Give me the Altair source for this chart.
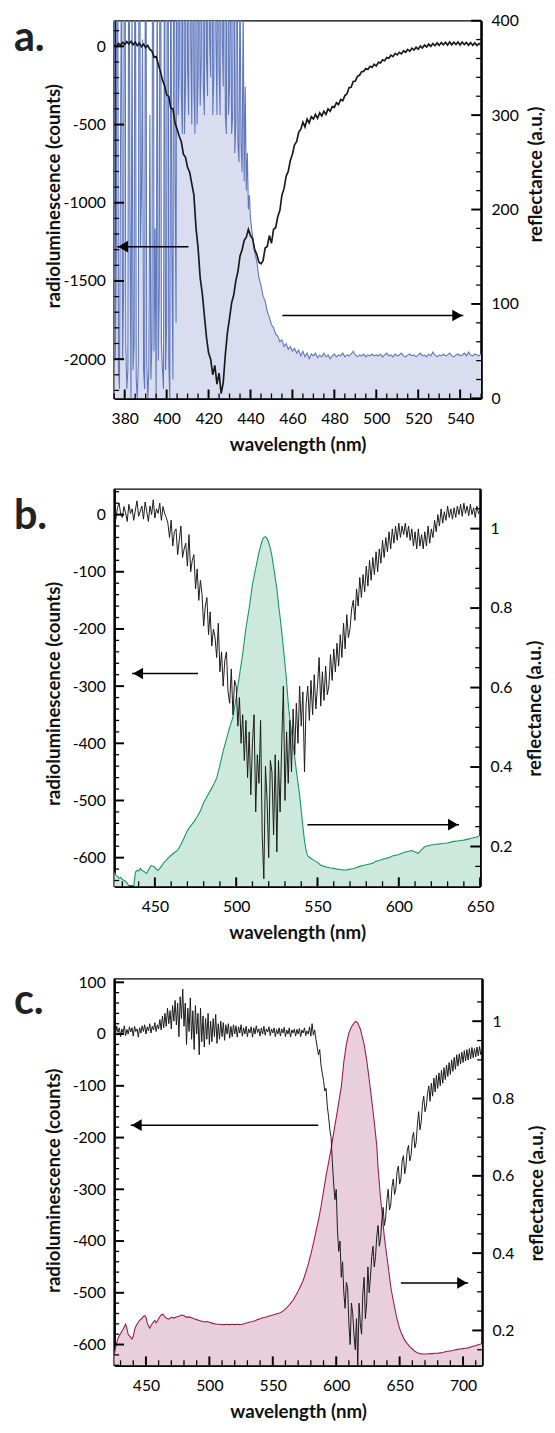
import altair as alt
import pandas as pd

FONT = "Lato"

# ---------------- panel a ----------------
a_rl_wl = list(range(375, 551))
a_rl = [
    10, -2, 18, 8, 25, 12, 30, 15, 32, 10,
    26, 5, 20, -2, 14, -8, 6, -20, -30, -70,
    -65, -115, -160, -215, -250, -310, -320, -395, -400, -490,
    -530, -575, -610, -690, -710, -775, -805, -880, -950, -1160,
    -1290, -1480, -1580, -1720, -1860, -1960, -2000, -2100, -2040, -2160,
    -2090, -2220, -2150, -1970, -1830, -1740, -1640, -1590, -1500, -1440,
    -1340, -1300, -1240, -1220, -1170, -1210, -1230, -1300, -1330, -1380,
    -1390, -1370, -1290, -1280, -1210, -1260, -1170, -1160, -1090, -1050,
    -950, -910, -830, -800, -730, -690, -630, -610, -550, -530,
    -485, -515, -465, -490, -450, -465, -435, -460, -425, -445,
    -415, -435, -400, -415, -385, -390, -360, -372, -340, -348,
    -315, -305, -265, -262, -225, -222, -192, -185, -162, -160,
    -142, -148, -128, -135, -115, -126, -102, -106, -86, -92,
    -72, -76, -56, -66, -45, -55, -38, -48, -28, -38,
    -20, -32, -12, -24, -6, -18, 2, -10, 8, -4,
    14, 0, 18, 4, 22, 6, 24, 10, 26, 8,
    28, 10, 26, 12, 28, 8, 27, 12, 25, 8,
    24, 6, 22, 5, 18, 10,
]
a_ref_wl = [375 + 0.5 * i for i in range(130)] + list(range(440, 551))
a_ref = [
    600, 40, 150, 800, 30, 10, 260, 500, 40, 120,
    900, 60, 10, 30, 650, 200, 0, 420, 30, 60,
    700, 20, 0, 40, 850, 160, 220, 380, 30, 10,
    750, 40, 0, 30, 300, 20, 60, 900, 50, 180,
    0, 480, 40, 120, 820, 60, 30, 10, 560, 30,
    80, 950, 40, 0, 520, 160, 20, 780, 240, 80,
    900, 300, 350, 750, 320, 280, 880, 280, 330, 620,
    350, 300, 900, 380, 290, 700, 330, 280, 950, 290,
    340, 560, 310, 360, 820, 330, 300, 680, 360, 320,
    900, 380, 340, 720, 300, 340, 880, 390, 300, 600,
    350, 300, 820, 380, 330, 700, 300, 280, 900, 300,
    330, 520, 280, 300, 700, 260, 290, 600, 270, 250,
    450, 270, 240, 420, 230, 330, 220, 260, 200, 215,
    190, 172, 155, 145, 128, 120, 108, 103, 92, 86,
    78, 75, 68, 66, 60, 62, 55, 58, 52, 55,
    50, 53, 48, 51, 45, 50, 44, 48, 42, 47,
    45, 48, 43, 46, 44, 48, 44, 46, 42, 45,
    47, 44, 46, 45, 48, 44, 46, 45, 47, 50,
    46, 44, 46, 45, 47, 44, 46, 45, 47, 45,
    46, 45, 47, 44, 46, 48, 45, 46, 44, 47,
    45, 46, 48, 45, 44, 46, 47, 45, 46, 44,
    46, 48, 45, 46, 44, 47, 45, 49, 46, 44,
    46, 45, 47, 45, 46, 48, 45, 44, 46, 47,
    45, 46, 48, 45, 49, 46, 45, 47, 46, 45,
    47,
]

# ---------------- panel b ----------------
b_rl_wl = list(range(425, 651))
b_rl = [
    5, -8, 12, 20, 0, -5, 14, 3, -12, 18,
    2, 10, -10, 8, 24, -3, 6, 15, -8, 22,
    5, -12, 15, 0, 26, -6, 10, 2, 20, -10,
    14, 2, -5, -15, -40, -10, -55, -30, -25, -70,
    -45, -20, -75, -60, -50, -90, -35, -100, -80, -70,
    -130, -95, -150, -115, -140, -195, -160, -145, -210, -170,
    -230, -200, -215, -250, -190, -275, -240, -300, -255, -240,
    -310, -330, -270, -350, -290, -300, -370, -320, -400, -350,
    -430, -360, -460, -380, -490, -400, -350, -520, -420, -470,
    -360, -560, -637, -440, -500, -600, -430, -450, -560, -420,
    -590, -430, -520, -400, -300, -500, -380, -470, -360, -450,
    -340, -420, -330, -400, -300, -370, -310, -450, -330, -300,
    -360, -290, -350, -280, -340, -300, -250, -335, -275, -325,
    -265, -315, -300, -245, -290, -235, -275, -225, -265, -210,
    -250, -190, -235, -175, -215, -200, -165, -150, -185, -130,
    -160, -110, -145, -105, -135, -90, -125, -80, -115, -75,
    -105, -65, -100, -60, -85, -45, -75, -40, -65, -30,
    -60, -25, -50, -20, -45, -15, -40, -20, -35, -15,
    -40, -20, -45, -25, -55, -30, -60, -25, -55, -35,
    -60, -30, -55, -20, -50, -25, -40, -10, -30, 0,
    -20, 10, -15, 5, -10, 15, -5, 10, -8, 12,
    -5, 15, 0, 18, -3, 20, 2, 15, -2, 18,
    0, 12, -5, 15, 2, 8,
]
b_ref_wl = [
    425, 426, 427, 428, 429, 430, 431, 432, 433, 434, 435, 436, 437, 438, 439,
    440, 441, 442, 443, 444, 445, 446, 447, 448, 449, 450, 451, 452, 453, 454,
    455, 456, 457, 458, 460, 462, 464, 466, 468, 470, 472, 474, 476, 478, 480,
    482, 484, 486, 488, 490, 492, 494, 496, 498, 500, 502, 504, 506, 508, 510,
    512, 514, 516, 517, 518, 519, 520, 521, 522, 523, 524, 525, 526, 527, 528,
    529, 530, 531, 532, 533, 534, 535, 536, 537, 538, 539, 540, 541, 542, 543,
    544, 546, 548, 550, 552, 554, 556, 558, 560, 562, 564, 566, 568, 570, 572,
    574, 576, 578, 580, 582, 584, 586, 588, 590, 592, 594, 596, 598, 600, 602,
    604, 606, 608, 610, 612, 614, 616, 618, 620, 622, 624, 626, 628, 630, 632,
    634, 636, 638, 640, 642, 644, 646, 648, 650,
]
b_ref = [
    0.135, 0.128, 0.125, 0.12, 0.122, 0.117, 0.115, 0.112, 0.108, 0.10, 0.095, 0.09, 0.10, 0.135, 0.14,
    0.138, 0.145, 0.14, 0.138, 0.135, 0.132, 0.14, 0.148, 0.152, 0.15, 0.148, 0.142, 0.14, 0.145, 0.15,
    0.156, 0.162, 0.165, 0.17, 0.178, 0.185, 0.19, 0.205, 0.222, 0.24, 0.252, 0.262, 0.275, 0.29, 0.31,
    0.325, 0.34, 0.355, 0.372, 0.405, 0.44, 0.47, 0.5, 0.525, 0.575, 0.63, 0.685, 0.75, 0.8, 0.86,
    0.9, 0.94, 0.97, 0.978, 0.98, 0.975, 0.965, 0.95, 0.93, 0.905, 0.876, 0.85, 0.81, 0.777, 0.74,
    0.70, 0.66, 0.615, 0.56, 0.52, 0.49, 0.455, 0.425, 0.39, 0.36, 0.33, 0.29, 0.25, 0.215, 0.19,
    0.176, 0.17, 0.165, 0.16, 0.153, 0.15, 0.148, 0.146, 0.145, 0.143, 0.142, 0.141, 0.141, 0.143, 0.144,
    0.147, 0.15, 0.152, 0.154, 0.156, 0.158, 0.163, 0.165, 0.168, 0.17, 0.172, 0.176, 0.178, 0.18, 0.183,
    0.186, 0.188, 0.19, 0.186, 0.183, 0.192, 0.2, 0.202, 0.204, 0.205, 0.206, 0.207, 0.208, 0.209, 0.211,
    0.213, 0.214, 0.215, 0.216, 0.218, 0.22, 0.222, 0.224, 0.228,
]

# ---------------- panel c ----------------
c_rl_wl = list(range(425, 716))
c_rl = [
    8, 0, 15, 3, 12, -5, 10, 2, 16, -3,
    9, 0, 14, 4, 12, -4, 15, 5, 10, -6,
    12, 2, 16, 5, 18, 0, 14, 6, 20, 2,
    15, 8, 22, 5, 18, 10, 28, 8, 35, 12,
    40, 15, 50, 20, 45, 10, 55, 25, 65, 18,
    60, -5, 72, 30, 87, 15, 60, -20, 50, 5,
    70, -10, 45, -30, 55, 0, 40, -40, 50, -15,
    35, -25, 30, -10, 40, -20, 25, -15, 30, -5,
    38, -18, 20, -10, 25, -5, 22, -12, 18, 0,
    20, -8, 15, -5, 18, 0, 16, -6, 14, 2,
    18, -4, 12, 0, 15, -5, 10, 2, 14, -6,
    12, 0, 16, 3, 10, -4, 12, 0, 15, -2,
    10, 4, 14, -3, 10, 2, 12, -5, 9, 0,
    12, -4, 10, 2, 13, -5, 8, 0, 12, -6,
    8, 2, 10, -4, 9, 0, 11, -5, 8, 2,
    12, -3, 6, 0, 14, -4, 20, -2, 8, -10,
    -25, -40, -30, -60, -75, -90, -110, -105, -140, -160,
    -185, -200, -250, -290, -320, -300, -380, -420, -400, -470,
    -440, -500, -530, -480, -490, -560, -600, -520, -540, -580,
    -610, -550, -640, -520, -560, -580, -500, -470, -550, -520,
    -450, -500, -470, -430, -410, -450, -430, -390, -370, -410,
    -395, -360, -335, -370, -355, -320, -300, -340, -330, -295,
    -280, -310, -300, -265, -255, -290, -280, -245, -235, -270,
    -255, -225, -215, -245, -235, -200, -190, -220, -210, -175,
    -150, -185, -170, -135, -120, -150, -140, -115, -100, -130,
    -95, -120, -85, -112, -80, -105, -75, -100, -70, -95,
    -65, -88, -60, -82, -55, -78, -50, -72, -45, -68,
    -40, -62, -38, -58, -35, -55, -32, -52, -30, -50,
    -28, -48, -26, -46, -28, -44, -25, -42, -24, -40,
    -30,
]
c_ref_wl = [
    425, 426, 427, 428, 429, 430, 431, 432, 433, 434, 435, 436, 437, 438, 439,
    440, 441, 442, 443, 444, 445, 446, 447, 448, 449, 450, 451, 452, 453, 454,
    455, 456, 457, 458, 459, 460, 461, 462, 463, 464, 465, 466, 467, 468, 469,
    470, 472, 474, 476, 478, 480, 482, 484, 486, 488, 490, 492, 494, 496, 498,
    500, 502, 504, 506, 508, 510, 512, 514, 516, 518, 520, 522, 524, 526, 528,
    530, 532, 534, 536, 538, 540, 542, 544, 546, 548, 550, 552, 554, 556, 558,
    560, 562, 564, 566, 568, 570, 572, 574, 576, 578, 580, 582, 584, 586, 588,
    590, 592, 594, 596, 598, 600, 602, 604, 606, 608, 610, 612, 614, 615.5, 617,
    619, 620, 622, 624, 626, 628, 630, 632, 633, 634, 635, 636, 638, 640, 642,
    643, 644, 646, 648, 650, 652, 654, 656, 658, 660, 662, 664, 666, 668, 670,
    672, 674, 676, 678, 680, 682, 684, 686, 688, 690, 692, 694, 696, 698, 700,
    702, 704, 706, 708, 710, 712, 714, 715,
]
c_ref = [
    0.135, 0.155, 0.168, 0.18, 0.186, 0.192, 0.198, 0.203, 0.21, 0.216, 0.205, 0.19, 0.186, 0.182, 0.178,
    0.185, 0.2, 0.21, 0.216, 0.222, 0.226, 0.229, 0.232, 0.236, 0.238, 0.234, 0.22, 0.212, 0.206, 0.212,
    0.218, 0.222, 0.226, 0.22, 0.224, 0.23, 0.236, 0.24, 0.242, 0.24, 0.235, 0.232, 0.23, 0.229, 0.232,
    0.234, 0.232, 0.235, 0.237, 0.24, 0.238, 0.234, 0.235, 0.233, 0.23, 0.228, 0.226, 0.224, 0.222, 0.223,
    0.221, 0.219, 0.217, 0.216, 0.216, 0.215, 0.215, 0.216, 0.215, 0.216, 0.215, 0.216, 0.215, 0.216, 0.218,
    0.22, 0.222, 0.223, 0.225, 0.228, 0.23, 0.233, 0.234, 0.236, 0.238, 0.24, 0.242, 0.244, 0.246, 0.25,
    0.256, 0.262, 0.27, 0.278, 0.29, 0.302, 0.315, 0.33, 0.35, 0.372, 0.397, 0.425, 0.455, 0.485, 0.52,
    0.56, 0.6, 0.635, 0.67, 0.712, 0.75, 0.79, 0.83, 0.895, 0.94, 0.97, 0.985, 0.995, 1.0, 0.995,
    0.98, 0.967, 0.94, 0.9, 0.85, 0.796, 0.74, 0.677, 0.62, 0.58, 0.54, 0.51, 0.44, 0.39, 0.34,
    0.313, 0.295, 0.26, 0.229, 0.205, 0.188, 0.175, 0.166, 0.158, 0.152, 0.146, 0.142, 0.14, 0.139, 0.139,
    0.139, 0.14, 0.14, 0.141, 0.141, 0.142, 0.143, 0.145, 0.146, 0.147, 0.148, 0.15, 0.151, 0.152, 0.153,
    0.154, 0.155, 0.157, 0.159, 0.161, 0.163, 0.165, 0.166,
]

# axis tick values
a_x_major = [380, 400, 420, 440, 460, 480, 500, 520, 540]
a_x_minor = [v for v in range(375, 551, 5) if v % 20 != 0]
a_l_major = [-2000, -1500, -1000, -500, 0]
a_l_minor = [v for v in range(-2200, 101, 100) if v % 500 != 0]
a_r_major = [0, 100, 200, 300, 400]
a_r_minor = [v for v in range(20, 400, 20) if v % 100 != 0]

b_x_major = [450, 500, 550, 600, 650]
b_x_minor = [v for v in range(430, 650, 10) if v % 50 != 0]
b_l_major = [-600, -500, -400, -300, -200, -100, 0]
b_l_minor = [v for v in range(-640, 41, 20) if v % 100 != 0]
b_r_major = [0.2, 0.4, 0.6, 0.8, 1]
b_r_minor = [0.15, 0.25, 0.3, 0.35, 0.45, 0.5, 0.55, 0.65, 0.7, 0.75, 0.85, 0.9, 0.95, 1.05]

c_x_major = [450, 500, 550, 600, 650, 700]
c_x_minor = [v for v in range(430, 716, 10) if v % 50 != 0]
c_l_major = [-600, -500, -400, -300, -200, -100, 0, 100]
c_l_minor = [v for v in range(-640, 101, 20) if v % 100 != 0]
c_r_major = [0.2, 0.4, 0.6, 0.8, 1]
c_r_minor = [0.15, 0.25, 0.3, 0.35, 0.45, 0.5, 0.55, 0.65, 0.7, 0.75, 0.85, 0.9, 0.95, 1.05]

# arrows: (x from, x to, y)
a_arrow_left = (410.4, 376.4, -1281)
a_arrow_right = (455.2, 541.5, 87.8)
b_arrow_left = (476.5, 436.0, -278)
b_arrow_right = (543.8, 637.0, 0.255)
c_arrow_left = (585.8, 438.0, -176)
c_arrow_right = (651.0, 704.0, 0.323)


def panel(W, H, xdom, ldom, rdom, xmaj, xmin, lmaj, lmin, rmaj, rmin,
          rl_wl, rl, ref_wl, ref, line_color, fill_color, arr_l, arr_r,
          label, label_y, ltitle_y, rtitle_y, rl_width):
    xs = alt.Scale(domain=xdom, nice=False, zero=False)
    ls = alt.Scale(domain=ldom, nice=False, zero=False)
    rs = alt.Scale(domain=rdom, nice=False, zero=False)
    rl_df = pd.DataFrame({"wl": rl_wl, "v": rl})
    ref_df = pd.DataFrame({"wl": ref_wl, "v": ref})

    x_axis = alt.Axis(orient="bottom", values=xmaj, title="wavelength (nm)",
                      ticks=False, tickSize=0, labelPadding=13, labelFlush=False,
                      labelOverlap=False, titleX=W / 2, titleY=47, titleBaseline="middle",
                      labelExpr="toString(datum.value)")
    l_axis = alt.Axis(orient="left", values=lmaj, title="radioluminescence (counts)",
                      ticks=False, tickSize=0, labelPadding=9, labelOverlap=False,
                      titleX=-62, titleY=ltitle_y, titleAngle=270, titleBaseline="middle",
                      labelExpr="toString(datum.value)")
    r_axis = alt.Axis(orient="right", values=rmaj, title="reflectance (a.u.)",
                      ticks=False, tickSize=0, labelPadding=10, labelOverlap=False,
                      titleX=55, titleY=rtitle_y, titleAngle=270, titleBaseline="middle",
                      labelExpr="toString(datum.value)")

    def X(field):
        return alt.X(field, scale=xs, axis=x_axis)

    def yticks(values, scale, x0, x1, sw):
        return alt.Chart(pd.DataFrame({"v": values})).mark_rule(
            color="black", strokeWidth=sw
        ).encode(y=alt.Y("v:Q", scale=scale, axis=None), x=alt.value(x0), x2=alt.value(x1))

    def xticks(values, length, sw):
        return alt.Chart(pd.DataFrame({"v": values})).mark_rule(
            color="black", strokeWidth=sw
        ).encode(x=X("v:Q"), y=alt.value(H), y2=alt.value(H - length))

    def arrow(spec, ys, direction):
        df = pd.DataFrame({"x1": [spec[0]], "x2": [spec[1]], "y": [spec[2]]})
        line = alt.Chart(df).mark_rule(color="black", strokeWidth=1.5).encode(
            x=X("x1:Q"), x2="x2:Q", y=alt.Y("y:Q", scale=ys, axis=None))
        if direction == "left":
            head = alt.Chart(df).mark_point(shape="triangle-left", filled=True, size=140,
                                            color="black", opacity=1, xOffset=6)
        else:
            head = alt.Chart(df).mark_point(shape="triangle-right", filled=True, size=140,
                                            color="black", opacity=1, xOffset=-6)
        head = head.encode(x=X("x2:Q"), y=alt.Y("y:Q", scale=ys, axis=None))
        return [line, head]

    area = alt.Chart(ref_df).mark_area(clip=True, color=fill_color, opacity=1).encode(
        x=X("wl:Q"), y=alt.Y("v:Q", scale=rs, axis=r_axis))
    ref_line = alt.Chart(ref_df).mark_line(clip=True, color=line_color, strokeWidth=1.1).encode(
        x=X("wl:Q"), y=alt.Y("v:Q", scale=rs, axis=None))
    rl_line = alt.Chart(rl_df).mark_line(clip=True, color="#1a1a1a", strokeWidth=rl_width).encode(
        x=X("wl:Q"), y=alt.Y("v:Q", scale=ls, axis=l_axis))
    lab = alt.Chart(pd.DataFrame({"t": [label]})).mark_text(
        align="left", baseline="alphabetic", fontSize=42, fontWeight="bold", font=FONT,
        color="#222"
    ).encode(x=alt.value(-102), y=alt.value(label_y), text="t:N")

    layers = [area, ref_line,
              yticks(rmaj, rs, W, W - 10, 2), yticks(rmin, rs, W, W - 5, 1.3)]
    layers += arrow(arr_r, rs, "right")
    layers += [rl_line,
               yticks(lmaj, ls, 0, 10, 2), yticks(lmin, ls, 0, 5, 1.3),
               xticks(xmaj, 9, 2), xticks(xmin, 5, 1.3)]
    layers += arrow(arr_l, ls, "left")
    layers += [lab]
    return alt.layer(*layers).resolve_scale(y="independent").properties(width=W, height=H)


pa = panel(373, 384, [375, 550], [-2251, 164], [0, 400],
           a_x_major, a_x_minor, a_l_major, a_l_minor, a_r_major, a_r_minor,
           a_rl_wl, a_rl, a_ref_wl, a_ref, "#5f77bd", "#d9ddef",
           a_arrow_left, a_arrow_right, "a.", 31, 178, 156, 1.7)
pb = panel(372, 404, [425, 650], [-650, 45], [0.1, 1.1],
           b_x_major, b_x_minor, b_l_major, b_l_minor, b_r_major, b_r_minor,
           b_rl_wl, b_rl, b_ref_wl, b_ref, "#13995a", "#cde8dc",
           b_arrow_left, b_arrow_right, "b.", 41, 208, 223, 1.0)
pc = panel(374, 393, [425, 715], [-640, 107], [0.11, 1.11],
           c_x_major, c_x_minor, c_l_major, c_l_minor, c_r_major, c_r_minor,
           c_rl_wl, c_rl, c_ref_wl, c_ref, "#9c1c50", "#e9cfdc",
           c_arrow_left, c_arrow_right, "c.", 36, 205, 218, 1.0)

top = alt.vconcat(pa, pb, spacing=33)
chart = alt.vconcat(top, pc, spacing=31).properties(
    padding={"left": 5, "top": -8, "right": 0, "bottom": 0}
).configure_view(stroke="black", strokeWidth=1.3).configure_axis(
    labelFont=FONT, titleFont=FONT, labelColor="black", titleColor="#111",
    labelFontSize=16, titleFontSize=19, titleFontWeight="bold",
    domainColor="black", domainWidth=2.5, grid=False,
)

chart.save("out.html", embed_options={"renderer": "svg", "actions": False})
